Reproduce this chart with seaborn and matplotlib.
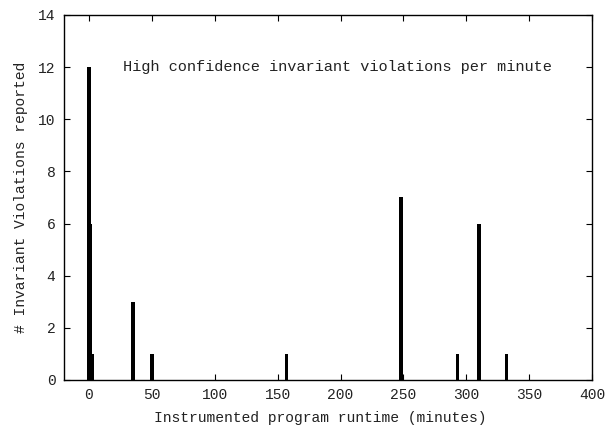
import matplotlib
matplotlib.use("Agg")
import matplotlib.pyplot as plt
import seaborn as sns
import pandas as pd

# minutes since start / violations in that minute
minutes = [0, 1, 2, 3, 35, 50, 157, 248, 293, 310, 332]
violations = [12, 6, 1, 1, 3, 1, 1, 7, 1, 6, 1]

x_ticks = [0, 50, 100, 150, 200, 250, 300, 350, 400]
y_ticks = [0, 2, 4, 6, 8, 10, 12, 14]

sns.set_style("ticks")
plt.rcParams['font.family'] = ['Liberation Mono', 'DejaVu Sans Mono']
plt.rcParams['font.size'] = 10.5
TXT = "#222222"

df = pd.DataFrame({"minute": minutes, "violations": violations})

fig, ax = plt.subplots(figsize=(6.13, 4.26), dpi=100)
fig.subplots_adjust(left=0.104, right=0.966, top=0.965, bottom=0.108)

sns.barplot(data=df, x="minute", y="violations", native_scale=True,
            width=2.8, color="black", saturation=1, linewidth=0,
            errorbar=None, ax=ax)

ax.set_xlim(-20, 400)
ax.set_ylim(0, 14)
ax.set_xticks(x_ticks)
ax.set_yticks(y_ticks)
ax.tick_params(direction="in", top=True, right=True, length=4, width=0.8,
               labelsize=10.5, colors="black", labelcolor=TXT, pad=6)
for s in ax.spines.values():
    s.set_visible(True)
    s.set_linewidth(1.0)
    s.set_color("black")

ax.set_xlabel("Instrumented program runtime (minutes)", fontsize=10.5,
              color=TXT, labelpad=6)
ax.xaxis.label.set_x(0.485)
ax.set_ylabel("# Invariant Violations reported", fontsize=10.5,
              color=TXT, labelpad=7)
ax.text(27, 12, "High confidence invariant violations per minute",
        fontsize=11, va="center", ha="left", color=TXT)

fig.savefig("out.png", dpi=100)
